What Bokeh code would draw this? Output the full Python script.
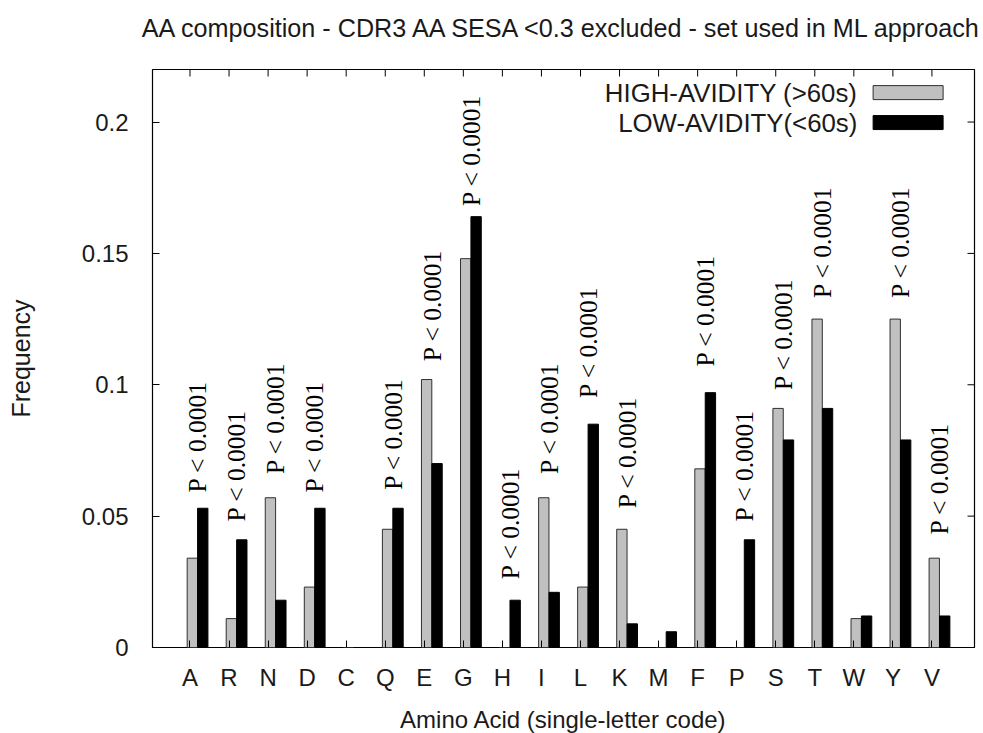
import math

from bokeh.plotting import figure
from bokeh.models import (ColumnDataSource, Range1d, FixedTicker,
                          NumeralTickFormatter, Label)
from bokeh.core.properties import value
from bokeh.embed import file_html
from bokeh.resources import INLINE

# Amino-acid composition of CDR3 residues (SESA >= 0.3)
amino_acids = ["A", "R", "N", "D", "C", "Q", "E", "G", "H", "I",
               "L", "K", "M", "F", "P", "S", "T", "W", "Y", "V"]
high_avidity = [0.034, 0.011, 0.057, 0.023, 0.000, 0.045, 0.102, 0.148, 0.000, 0.057,
                0.023, 0.045, 0.000, 0.068, 0.000, 0.091, 0.125, 0.011, 0.125, 0.034]
low_avidity = [0.053, 0.041, 0.018, 0.053, 0.000, 0.053, 0.070, 0.164, 0.018, 0.021,
               0.085, 0.009, 0.006, 0.097, 0.041, 0.079, 0.091, 0.012, 0.079, 0.012]

# Residues with a significant difference, and the frequency where each label starts
pval_residues = ["A", "R", "N", "D", "Q", "E", "G", "H", "I",
                 "L", "K", "F", "P", "S", "T", "Y", "V"]
pval_y = [0.059, 0.048, 0.066, 0.059, 0.060, 0.109, 0.168, 0.026, 0.066,
          0.095, 0.053, 0.107, 0.048, 0.098, 0.133, 0.133, 0.043]
pval_text = "P < 0.0001"

series_names = ["HIGH-AVIDITY (>60s)", "LOW-AVIDITY(<60s)"]
y_ticks = [0, 0.05, 0.1, 0.15, 0.2]

TITLE = "AA composition - CDR3 AA SESA <0.3 excluded - set used in ML approach"
SANS = "Liberation Sans"
SERIF = "Liberation Serif"
TEXT_COLOR = "#1a1a1a"
GREY = "#c0c0c0"

X_LO, X_HI = -0.96, 20.09
Y_LO, Y_HI = 0.0, 0.22

idx = list(range(len(amino_acids)))
BAR_W = 0.265
bars = ColumnDataSource(dict(
    x_high=[i + 0.060 for i in idx],
    x_low=[i + 0.327 for i in idx],
    high=high_avidity,
    low=low_avidity,
))
pos = {aa: i for i, aa in enumerate(amino_acids)}
pvals = ColumnDataSource(dict(
    x=[pos[aa] + 0.2 for aa in pval_residues],
    y=pval_y,
    text=[pval_text] * len(pval_residues),
))

p = figure(frame_width=822, frame_height=578,
           x_range=Range1d(X_LO, X_HI), y_range=Range1d(Y_LO, Y_HI),
           min_border_left=152, min_border_right=9,
           min_border_top=69, min_border_bottom=86,
           output_backend="svg", toolbar_location=None,
           background_fill_color="white", border_fill_color="white")
p.grid.visible = False
p.outline_line_color = "black"
p.outline_line_width = 1.2

p.vbar(x="x_high", top="high", bottom=0, width=BAR_W, source=bars,
       fill_color=GREY, line_color="#303030", line_width=1)
p.vbar(x="x_low", top="low", bottom=0, width=BAR_W, source=bars,
       fill_color="black", line_color="black", line_width=1)

p.text(x="x", y="y", text="text", source=pvals, angle=math.pi / 2,
       text_align="left", text_baseline="middle",
       text_font=value(SERIF), text_font_size="25.5px", text_color="black")

# Bottom / left axes with inward ticks
xa = p.xaxis[0]
xa.ticker = FixedTicker(ticks=idx)
xa.major_label_overrides = {i: aa for i, aa in enumerate(amino_acids)}
xa.axis_label = "Amino Acid (single-letter code)"

ya = p.yaxis[0]
ya.ticker = FixedTicker(ticks=y_ticks)
ya.formatter = NumeralTickFormatter(format="0.[00]")
ya.axis_label = "Frequency"

for ax in (xa, ya):
    ax.axis_line_color = None
    ax.major_tick_in = 7
    ax.major_tick_out = 0
    ax.major_tick_line_color = "black"
    ax.minor_tick_line_color = None
    ax.major_label_text_font = SANS
    ax.major_label_text_font_size = "24px"
    ax.major_label_text_color = TEXT_COLOR
    ax.axis_label_text_font = SANS
    ax.axis_label_text_font_style = "normal"
    ax.axis_label_text_color = TEXT_COLOR

xa.major_label_standoff = 16
xa.axis_label_text_font_size = "24px"
xa.axis_label_standoff = 12
ya.major_label_standoff = 24
ya.axis_label_text_font_size = "25px"
ya.axis_label_standoff = 44

# Mirrored tick marks along the top and right edges (half of each dash is
# clipped away by the frame, leaving a 7px inward tick)
p.scatter(x=idx, y=[Y_HI] * len(idx), marker="dash", size=14, angle=math.pi / 2,
          line_color="black", line_width=1)
p.scatter(x=[X_HI] * len(y_ticks), y=y_ticks, marker="dash", size=14,
          line_color="black", line_width=1)

# Title; the trailing line break leaves a blank line between title and frame
p.title.text = TITLE + "\n"
p.title.align = "center"
p.title.vertical_align = "bottom"
p.title.standoff = 0
p.title.text_font = SANS
p.title.text_font_size = "25.2px"
p.title.text_font_style = "normal"
p.title.text_line_height = 1.0
p.title.text_color = TEXT_COLOR

# Key: right-aligned series names with a sample box to their right
key = ColumnDataSource(dict(
    x=[18.39, 18.39], y=[0.2112, 0.1998],
    fill=[GREY, "black"], line=["#303030", "black"],
))
p.rect(x="x", y="y", width=70, height=14, width_units="screen", height_units="screen",
       source=key, fill_color="fill", line_color="line", line_width=1)
for name, ly in zip(series_names, key.data["y"]):
    p.add_layout(Label(x=17.09, y=ly, text=name, text_align="right",
                       text_baseline="middle", text_font=SANS,
                       text_font_size="25.8px", text_color=TEXT_COLOR))

open("out.html", "w").write(file_html(p, INLINE))
